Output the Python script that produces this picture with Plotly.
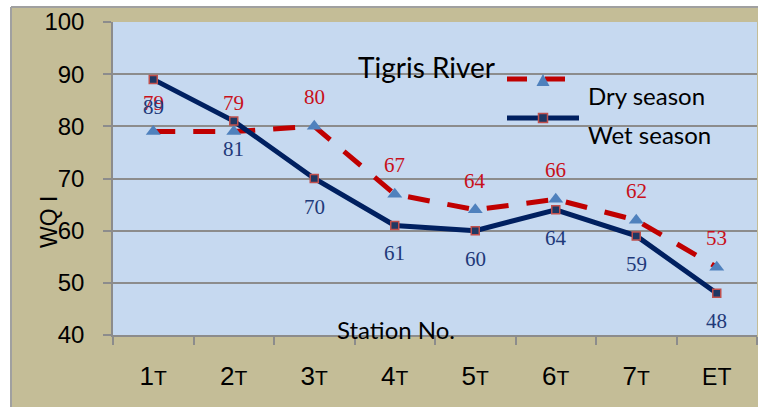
import plotly.graph_objects as go

# ---- data ----
stations = ["1T", "2T", "3T", "4T", "5T", "6T", "7T", "ET"]
tick_text = ["1<span style='font-size:21px'>T</span>",
             "2<span style='font-size:21px'>T</span>",
             "3<span style='font-size:21px'>T</span>",
             "4<span style='font-size:21px'>T</span>",
             "5<span style='font-size:21px'>T</span>",
             "6<span style='font-size:21px'>T</span>",
             "7<span style='font-size:21px'>T</span>",
             "<span style='font-size:23px'>ET</span>"]
dry_season = [79, 79, 80, 67, 64, 66, 62, 53]
wet_season = [89, 81, 70, 61, 60, 64, 59, 48]
y_ticks = [40, 50, 60, 70, 80, 90, 100]

# ---- styling ----
W, H = 758, 407
ML, MR, MT, MB = 113, 1, 22, 72
TAN = "#C4BD97"
PLOT_BG = "#C6D9F0"
GRID = "#8C8C8C"
FRAME = "#A0A0A0"
DRY_LINE = "#C00000"
DRY_MARK = "#4F81BD"
WET_LINE = "#002060"
WET_FILL = "#1F3864"
WET_EDGE = "#C0504D"
DRY_TEXT = "#C8101A"
WET_TEXT = "#1F3A7A"


def px(x):
    """pixel x -> paper fraction"""
    return (x - ML) / (W - ML - MR)


def py(y):
    """pixel y -> paper fraction"""
    return (H - MB - y) / (H - MT - MB)


fig = go.Figure()

fig.add_trace(go.Scatter(
    x=stations, y=dry_season, name="Dry season", mode="lines+markers",
    line=dict(color=DRY_LINE, width=5, dash="22px,18px"),
    marker=dict(symbol="triangle-up", size=13, color=DRY_MARK),
    showlegend=False,
))
fig.add_trace(go.Scatter(
    x=stations, y=wet_season, name="Wet season", mode="lines+markers",
    line=dict(color=WET_LINE, width=5),
    marker=dict(symbol="square", size=8, color=WET_FILL,
                line=dict(color=WET_EDGE, width=1.5)),
    showlegend=False,
))

annotations = []
for s, v in zip(stations, dry_season):
    annotations.append(dict(x=s, y=v, xref="x", yref="y", text=str(v),
                            showarrow=False, yshift=29,
                            font=dict(family="Liberation Serif", size=21, color=DRY_TEXT)))
for s, v in zip(stations, wet_season):
    annotations.append(dict(x=s, y=v, xref="x", yref="y", text=str(v),
                            showarrow=False, yshift=-28,
                            font=dict(family="Liberation Serif", size=21, color=WET_TEXT)))

# chart title
annotations.append(dict(x=px(426), y=py(48), xref="paper", yref="paper",
                        text="Tigris River", showarrow=False,
                        font=dict(family="Lato", size=28, color="black")))
# axis titles
annotations.append(dict(x=px(34), y=py(222), xref="paper", yref="paper",
                        text="WQ I", showarrow=False, textangle=-90,
                        font=dict(family="Liberation Sans", size=23, color="black")))
annotations.append(dict(x=px(396), y=py(346), xref="paper", yref="paper",
                        text="Station No.", showarrow=False,
                        font=dict(family="Lato", size=24, color="black")))
# legend labels
annotations.append(dict(x=px(586), y=py(79), xref="paper", yref="paper",
                        text="Dry season", showarrow=False, xanchor="left",
                        font=dict(family="Lato", size=24, color="black")))
annotations.append(dict(x=px(586), y=py(118), xref="paper", yref="paper",
                        text="Wet season", showarrow=False, xanchor="left",
                        font=dict(family="Lato", size=24, color="black")))

shapes = [
    # white page margin above and left of the chart area, with its frame
    dict(type="rect", xref="paper", yref="paper", layer="below",
         x0=px(-5), x1=px(765), y0=py(7), y1=py(-5),
         fillcolor="white", line=dict(width=0)),
    dict(type="rect", xref="paper", yref="paper", layer="below",
         x0=px(-5), x1=px(11), y0=py(415), y1=py(-5),
         fillcolor="white", line=dict(width=0)),
    dict(type="line", xref="paper", yref="paper", layer="below",
         x0=px(11), x1=px(765), y0=py(7), y1=py(7),
         line=dict(color=FRAME, width=2)),
    dict(type="line", xref="paper", yref="paper", layer="below",
         x0=px(11), x1=px(11), y0=py(7), y1=py(415),
         line=dict(color=FRAME, width=2)),
    # legend glyphs
    dict(type="line", xref="paper", yref="paper",
         x0=px(507), x1=px(565), y0=py(79), y1=py(79),
         line=dict(color=DRY_LINE, width=5, dash="20px,18px")),
    dict(type="path", xref="paper", yref="paper",
         path=f"M{px(536.5)},{py(86)} L{px(549.5)},{py(86)} L{px(543)},{py(74)} Z",
         fillcolor=DRY_MARK, line=dict(width=0)),
    dict(type="line", xref="paper", yref="paper",
         x0=px(507), x1=px(579), y0=py(118), y1=py(118),
         line=dict(color=WET_LINE, width=5)),
    dict(type="rect", xref="paper", yref="paper",
         x0=px(538.5), x1=px(547.5), y0=py(122.5), y1=py(113.5),
         fillcolor=WET_FILL, line=dict(color=WET_EDGE, width=1.5)),
]

fig.update_layout(
    width=W, height=H,
    margin=dict(l=ML, r=MR, t=MT, b=MB, pad=0),
    paper_bgcolor=TAN,
    plot_bgcolor=PLOT_BG,
    showlegend=False,
    annotations=annotations,
    shapes=shapes,
)

fig.update_xaxes(
    type="category", range=[-0.5, 7.5],
    tickmode="array", tickvals=stations, ticktext=tick_text,
    tickson="boundaries", ticks="outside", ticklen=8, tickwidth=1.5, tickcolor=GRID,
    showgrid=False, showline=True, linecolor=GRID, linewidth=1.5,
    tickfont=dict(family="Liberation Sans", size=26, color="black"),
    ticklabelstandoff=17,
)
fig.update_yaxes(
    range=[40, 100], tickmode="array", tickvals=y_ticks,
    ticks="outside", ticklen=8, tickwidth=1.5, tickcolor=GRID,
    showgrid=True, gridcolor=GRID, gridwidth=1.5, zeroline=False,
    showline=True, linecolor=GRID, linewidth=1.5,
    tickfont=dict(family="Liberation Sans", size=24, color="black"),
    ticklabelstandoff=14,
)

fig.write_html("out.html")
